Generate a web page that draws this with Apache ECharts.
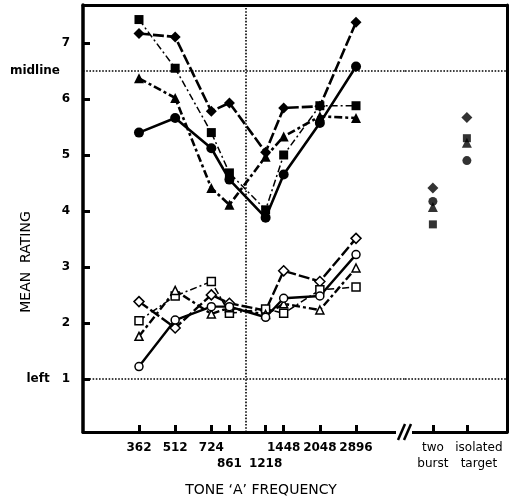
<!DOCTYPE html>
<html>
<head>
<meta charset="utf-8">
<script src="https://cdn.jsdelivr.net/npm/echarts@6/dist/echarts.min.js"></script>
<style>html,body{margin:0;padding:0;background:#fff;}#c{width:509px;height:502px;}</style>
</head>
<body>
<div id="c"></div>
<script>
// ---- data ----
var freqs = [362, 512, 724, 861, 1218, 1448, 2048, 2896];
var refFreq = 1000;
// upper group (filled markers)
var filledDiamond  = [7.17, 7.11, 5.78, 5.93, 5.05, 5.84, 5.87, 7.37];
var filledSquare   = [7.42, 6.55, 5.40, 4.68, 4.02, 5.00, 5.88, 5.88];
var filledTriangle = [6.37, 6.02, 4.41, 4.11, 4.97, 5.33, 5.69, 5.66];
var filledCircle   = [5.40, 5.66, 5.12, 4.56, 3.88, 4.65, 5.57, 6.58];
// lower group (open markers)
var openDiamond  = [2.38, 1.91, 2.50, 2.35, 2.22, 2.93, 2.74, 3.51];
var openSquare   = [2.04, 2.48, 2.74, 2.17, 2.25, 2.17, 2.59, 2.64];
var openTriangle = [1.76, 2.58, 2.16, 2.27, 2.15, 2.34, 2.23, 2.98];
var openCircle   = [1.22, 2.05, 2.29, 2.29, 2.10, 2.44, 2.48, 3.22];
// comparison conditions
var conditions = ['two\nburst', 'isolated\ntarget'];
var diamondCond  = [4.41, 5.67];
var squareCond   = [3.76, 5.30];
var triangleCond = [4.07, 5.22];
var circleCond   = [4.17, 4.90];
var yTicks = [1, 2, 3, 4, 5, 6, 7];
var midline = 6.5, leftLine = 1;

// ---- chart ----
var chart = echarts.init(document.getElementById('c'));
var K = '#000';
function lx(f){ return Math.log2(f); }
function pts(vals){ return freqs.map(function(f,i){ return [lx(f), vals[i]]; }); }
function cpts(vals){ return vals.map(function(v,i){ return [i + 1, v]; }); }

var dashLong = [11, 3];
var dashDotThin = [7, 3, 2, 3];
var dashDotThick = [8, 3, 3, 3];

function lineSeries(name, vals, symbol, filled, dash, width){
  return {
    type: 'line', name: name, xAxisIndex: 0, yAxisIndex: 0,
    data: pts(vals), symbol: symbol,
    symbolSize: symbol === 'diamond' ? (filled ? 11 : 10) : (symbol === 'rect' ? (filled ? 9 : 8) : (filled ? 10 : 8)),
    showAllSymbol: true, silent: true, animation: false,
    lineStyle: { color: K, width: width, type: dash },
    itemStyle: { color: filled ? K : '#fff', borderColor: K, borderWidth: filled ? 0 : 1.5 }
  };
}
function condSeries(vals, symbol, size){
  return {
    type: 'scatter', xAxisIndex: 2, yAxisIndex: 1, data: cpts(vals),
    symbol: symbol, symbolSize: size, silent: true, animation: false,
    itemStyle: { color: K }
  };
}
var hLineStyle = { color: K, type: 'dotted', width: 1.6 };

var labelFont = { fontFamily: 'DejaVu Sans', fontWeight: 'bold', fontSize: 12, color: K };
var condFont = { fontFamily: 'DejaVu Sans', fontSize: 12, color: K, lineHeight: 16, margin: 8 };

var series = [
  lineSeries('fd', filledDiamond, 'diamond', true, dashLong, 2.6),
  lineSeries('fs', filledSquare, 'rect', true, dashDotThin, 1.5),
  lineSeries('ft', filledTriangle, 'triangle', true, dashDotThick, 2.6),
  lineSeries('fc', filledCircle, 'circle', true, 'solid', 2.6),
  lineSeries('od', openDiamond, 'diamond', false, dashLong, 2.4),
  lineSeries('os', openSquare, 'rect', false, dashDotThin, 1.5),
  lineSeries('ot', openTriangle, 'triangle', false, dashDotThick, 2.4),
  lineSeries('oc', openCircle, 'circle', false, 'solid', 2.4),
  condSeries(diamondCond, 'diamond', 11),
  condSeries(squareCond, 'rect', 8),
  condSeries(triangleCond, 'triangle', 10),
  condSeries(circleCond, 'circle', 9)
];
series[0].markLine = {
  silent: true, symbol: 'none', label: { show: false }, animation: false,
  lineStyle: hLineStyle,
  data: [{ yAxis: midline }, { yAxis: leftLine }, { xAxis: lx(refFreq) }]
};
series[8].markLine = {
  silent: true, symbol: 'none', label: { show: false }, animation: false,
  lineStyle: hLineStyle,
  data: [{ yAxis: midline }, { yAxis: leftLine }]
};

var condMin = 0.18, condMax = 3.18;
function condAxis(idx, showLine, pad){
  return { type: 'value', gridIndex: 1, min: condMin, max: condMax, position: 'bottom', offset: 0,
    axisLine: { show: showLine, onZero: false, lineStyle: { color: K, width: 3 } },
    axisTick: { customValues: [idx + 1], inside: true, length: 7, lineStyle: { color: K, width: 3 } },
    axisLabel: Object.assign({ customValues: [idx + 1], padding: pad,
      formatter: function(){ return conditions[idx]; } }, condFont),
    splitLine: { show: false } };
}

var option = {
  backgroundColor: '#fff',
  animation: false,
  grid: [
    { left: 83, top: 5, width: 322, bottom: 70 },
    { left: 405, top: 5, width: 102, bottom: 70 }
  ],
  xAxis: [
    { type: 'value', gridIndex: 0, min: 7.726, max: 12.177, position: 'bottom',
      axisLine: { onZero: false, lineStyle: { color: K, width: 3 } },
      axisTick: { customValues: freqs.map(lx), inside: true, length: 7, lineStyle: { color: K, width: 3 } },
      axisLabel: Object.assign({ customValues: freqs.map(lx), margin: 8, lineHeight: 16,
        formatter: function(v){ var f = Math.round(Math.pow(2, v)); return (f === 861 || f === 1218) ? '\n' + f : '' + f; } }, labelFont),
      splitLine: { show: false } },
    { type: 'value', gridIndex: 0, min: 7.726, max: 12.177, position: 'top',
      axisLine: { onZero: false, lineStyle: { color: K, width: 3 } }, axisTick: { show: false }, axisLabel: { show: false }, splitLine: { show: false } },
    condAxis(0, true, [0, 0, 0, 0]),
    { type: 'value', gridIndex: 1, min: condMin, max: condMax, position: 'top',
      axisLine: { onZero: false, lineStyle: { color: K, width: 3 } }, axisTick: { show: false }, axisLabel: { show: false }, splitLine: { show: false } },
    condAxis(1, false, [0, 0, 0, 24])
  ],
  yAxis: [
    { type: 'value', gridIndex: 0, min: 0.05, max: 7.68, position: 'left',
      axisLine: { onZero: false, lineStyle: { color: K, width: 3.5 } },
      axisTick: { customValues: yTicks, inside: true, length: 7, lineStyle: { color: K, width: 3 } },
      axisLabel: Object.assign({ customValues: yTicks.concat([midline]), margin: 13,
        formatter: function(v){
          if (v === midline) return '{m|midline}';
          if (v === leftLine) return '{l|left}' + v;
          return '' + v;
        },
        rich: {
          m: { fontFamily: 'DejaVu Sans', fontSize: 12, color: K, padding: [0, 10, 0, 0] },
          l: { fontFamily: 'DejaVu Sans', fontSize: 12, color: K, padding: [0, 12, 0, 0] }
        } }, labelFont),
      splitLine: { show: false } },
    { type: 'value', gridIndex: 1, min: 0.05, max: 7.68, position: 'right',
      axisLine: { onZero: false, lineStyle: { color: K, width: 3 } }, axisTick: { show: false }, axisLabel: { show: false }, splitLine: { show: false } }
  ],
  title: {
    text: 'TONE \u2018A\u2019 FREQUENCY', left: 256, textAlign: 'center', top: 478,
    textStyle: { fontFamily: 'DejaVu Sans', fontSize: 14, fontWeight: 'normal', color: K }
  },
  graphic: [
    { type: 'text', x: 26, y: 262, rotation: Math.PI / 2,
      style: { text: 'MEAN  RATING', fontFamily: 'DejaVu Sans', fontSize: 14, fill: K, align: 'center', verticalAlign: 'middle' } },
    { type: 'rect', shape: { x: 396, y: 427, width: 16, height: 10 }, style: { fill: '#fff' }, z: 100 },
    { type: 'line', shape: { x1: 398, y1: 440, x2: 405, y2: 424 }, style: { stroke: K, lineWidth: 2.5 }, z: 101 },
    { type: 'line', shape: { x1: 404, y1: 440, x2: 411, y2: 424 }, style: { stroke: K, lineWidth: 2.5 }, z: 101 }
  ],
  series: series
};
chart.setOption(option);
</script>
</body>
</html>
